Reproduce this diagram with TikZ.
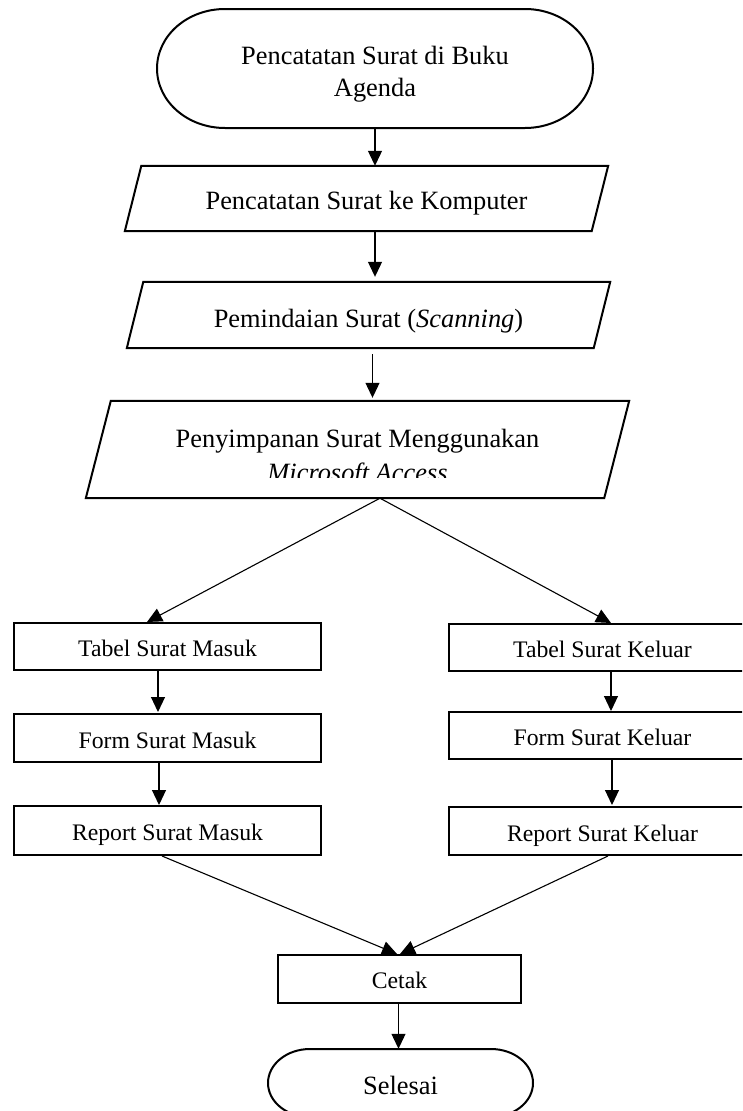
\documentclass[tikz,border=0pt]{standalone}
\usepackage{fontspec}
\setmainfont{Liberation Serif}
\usetikzlibrary{arrows.meta,calc}
\begin{document}
\begin{tikzpicture}[x=1pt,y=-1pt,
  boxline/.style={line width=2pt},
  conn/.style={line width=1.1pt,-{Triangle[length=15pt,width=14pt]}},
  bigfont/.style={font=\fontsize{26.4}{32}\selectfont},
  smallfont/.style={font=\fontsize{23.7}{28}\selectfont},
  area/.style={inner sep=0pt, draw=none},
  sbox/.style={draw, boxline, rectangle, inner sep=0pt, smallfont,
    text height=22pt, text depth=2pt, minimum width=307pt},
  pbox/.style={area, bigfont, text height=23pt, text depth=2pt},
]
\useasboundingbox (0,0) rectangle (742,1111);
\clip (0,0) rectangle (742,1111);

% ---- start terminal ----
\node[area, minimum width=436pt, minimum height=119pt] (start) at (375,68.5) {};
\draw[boxline] (225,9) -- (525,9)
  .. controls (562.6,9) and (593,35.6) .. (593,68.5)
  .. controls (593,101.4) and (562.6,128) .. (525,128) -- (225,128)
  .. controls (187.4,128) and (157,101.4) .. (157,68.5)
  .. controls (157,35.6) and (187.4,9) .. (225,9) -- cycle;
\node[bigfont, anchor=base, inner sep=0pt] (startA) at (375,64) {Pencatatan Surat di Buku};
\node[bigfont, anchor=base, inner sep=0pt] (startB) at (375,96) {Agenda};

% ---- parallelogram 1 ----
\node[pbox, minimum width=483pt, minimum height=65pt] (p1) at (366.5,198.5) {Pencatatan Surat ke Komputer};
\draw[boxline] ($(p1.north west)+(16.5,0)$) -- (p1.north east) -- ($(p1.south east)+(-16.5,0)$) -- (p1.south west) -- cycle;

% ---- parallelogram 2 ----
\node[pbox, text height=24pt, text depth=0pt, minimum width=483pt, minimum height=66pt] (p2) at (368.5,315) {Pemindaian Surat (\textit{Scanning})};
\draw[boxline] ($(p2.north west)+(16.5,0)$) -- (p2.north east) -- ($(p2.south east)+(-16.5,0)$) -- (p2.south west) -- cycle;

% ---- parallelogram 3 ----
\node[area, minimum width=543pt, minimum height=97pt] (p3) at (357.5,449.5) {};
\draw[boxline] ($(p3.north west)+(25,0)$) -- (p3.north east) -- ($(p3.south east)+(-25,0)$) -- (p3.south west) -- cycle;
\node[bigfont, anchor=base, inner sep=0pt] (p3a) at (357.5,447) {Penyimpanan Surat Menggunakan};
\begin{scope}
  \clip (0,0) rectangle (742,477.3);
  \node[bigfont, anchor=base, inner sep=0pt] (p3b) at (357.5,481.5) {\textit{Microsoft Access}};
\end{scope}

% ---- left column ----
\node[sbox, minimum height=47pt] (tabL) at (167.5,646.5) {Tabel Surat Masuk};
\node[sbox, minimum height=48pt] (formL) at (167.5,738) {Form Surat Masuk};
\node[sbox, minimum height=49pt] (repL) at (167.5,830.5) {Report Surat Masuk};

% ---- right column ----
\node[sbox, minimum height=47pt] (tabR) at (602.5,647.5) {Tabel Surat Keluar};
\node[sbox, minimum height=47pt] (formR) at (602.5,735.5) {Form Surat Keluar};
\node[sbox, minimum height=48pt] (repR) at (602.5,831) {Report Surat Keluar};

% ---- print and end ----
\node[sbox, minimum width=243pt, minimum height=48pt, text height=21pt, text depth=3pt] (cetak) at (399.5,979) {Cetak};
\node[area, bigfont, text height=24pt, text depth=2pt, minimum width=265pt, minimum height=68pt] (selesai) at (400.5,1083) {Selesai};
\draw[boxline] (310,1049) -- (491,1049)
  .. controls (514.2,1049) and (533,1064.2) .. (533,1083)
  .. controls (533,1101.8) and (514.2,1117) .. (491,1117) -- (310,1117)
  .. controls (286.8,1117) and (268,1101.8) .. (268,1083)
  .. controls (268,1064.2) and (286.8,1049) .. (310,1049) -- cycle;

% ---- connectors ----
\draw[conn] (start.south) -- (start.south |- p1.north);
\draw[conn, shorten >=5pt] (p1.south -| start.south) -- (start.south |- p2.north);
\draw[conn, shorten <=6pt, shorten >=3pt] ([xshift=4pt]p2.south) -- ([xshift=4pt]p2.south |- p3.north);
\draw[conn] ([xshift=22.5pt]p3.south) -- ([xshift=-20.5pt]tabL.north);
\draw[conn] ([xshift=22.5pt]p3.south) -- ([xshift=8.5pt]tabR.north);
\draw[conn, shorten >=1pt] ([xshift=-9.5pt]tabL.south) -- ([xshift=-9.5pt]tabL.south |- formL.north);
\draw[conn] ([xshift=-8.5pt]formL.south) -- ([xshift=-8.5pt]formL.south |- repL.north);
\draw[conn] ([xshift=8.5pt]tabR.south) -- ([xshift=8.5pt]tabR.south |- formR.north);
\draw[conn, shorten >=1pt] ([xshift=9.5pt]formR.south) -- ([xshift=9.5pt]formR.south |- repR.north);
\draw[conn] ([xshift=-5.5pt]repL.south) -- ([xshift=-2.5pt]cetak.north);
\draw[conn] ([xshift=5.5pt]repR.south) -- ([xshift=0.5pt]cetak.north);
\draw[conn] ([xshift=-1pt]cetak.south) -- ([xshift=-1pt]cetak.south |- selesai.north);
\end{tikzpicture}
\end{document}
